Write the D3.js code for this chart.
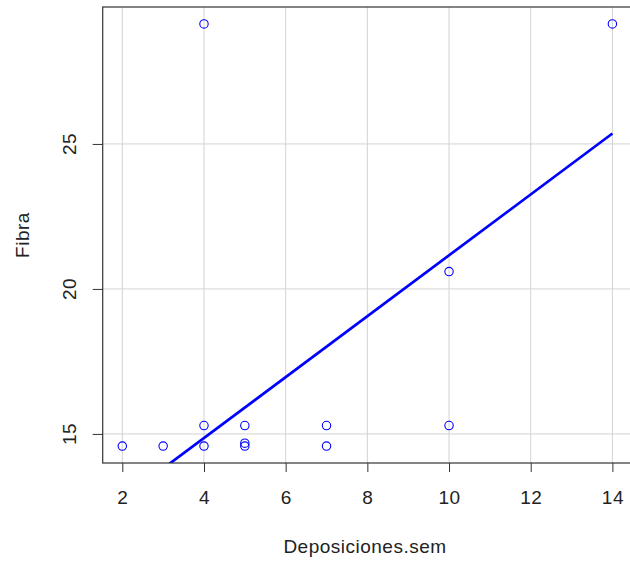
<!DOCTYPE html>
<html><head><meta charset="utf-8">
<script src="https://cdn.jsdelivr.net/npm/d3@7"></script>
<style>body{margin:0;background:#fff}svg{display:block}text{font-family:"Liberation Sans",Arial,sans-serif;fill:#222}</style>
</head><body>
<svg id="c" width="630" height="563"></svg>
<script>
const deposiciones = [2, 3, 4, 4, 4, 5, 5, 5, 7, 7, 10, 10, 14];
const fibra = [14.58, 14.58, 29.14, 15.29, 14.58, 15.29, 14.68, 14.58, 15.29, 14.58, 20.6, 15.29, 29.14];
const xTicks = [2, 4, 6, 8, 10, 12, 14];
const yTicks = [15, 20, 25];
const fitIntercept = 10.66;
const fitSlope = 1.05;

const svg = d3.select("#c");
const L = 102.7, R = 632, T = 7, B = 463;
const FS = 19, LS = "0.5px";
const xr = d3.extent(deposiciones), yr = d3.extent(fibra);
const xpad = (xr[1]-xr[0])*0.04, ypad = (yr[1]-yr[0])*0.04;
const x = d3.scaleLinear().domain([xr[0]-xpad, xr[1]+xpad]).range([L, R]);
const y = d3.scaleLinear().domain([yr[0]-ypad, yr[1]+ypad]).range([B, T]);

svg.append("clipPath").attr("id","clip").append("rect").attr("x",L).attr("y",T).attr("width",R-L).attr("height",B-T);

// grid
const g = svg.append("g").attr("clip-path","url(#clip)");
g.selectAll(".gx").data(xTicks).join("line").attr("x1",d=>x(d)).attr("x2",d=>x(d)).attr("y1",T).attr("y2",B).attr("stroke","#d3d3d3").attr("stroke-width",1);
g.selectAll(".gy").data(yTicks).join("line").attr("y1",d=>y(d)).attr("y2",d=>y(d)).attr("x1",L).attr("x2",R).attr("stroke","#d3d3d3").attr("stroke-width",1);

// regression line
const xs = d3.extent(deposiciones);
g.append("line").attr("x1",x(xs[0])).attr("y1",y(fitIntercept+fitSlope*xs[0])).attr("x2",x(xs[1])).attr("y2",y(fitIntercept+fitSlope*xs[1]))
  .attr("stroke","#0000ff").attr("stroke-width",2.7);

// points
g.selectAll("circle").data(deposiciones.map((d,i)=>[d,fibra[i]])).join("circle")
  .attr("cx",d=>x(d[0])).attr("cy",d=>y(d[1])).attr("r",4.2).attr("fill","none").attr("stroke","#0000ff").attr("stroke-width",1.1);

// box
svg.append("rect").attr("x",L).attr("y",T).attr("width",R-L).attr("height",B-T).attr("fill","none").attr("stroke","#333").attr("stroke-width",1.2);

// axes
const xa = d3.axisBottom(x).tickValues(xTicks).tickSize(9).tickPadding(19).tickFormat(d3.format("d"));
const xg = svg.append("g").attr("transform",`translate(0,${B})`).call(xa);
xg.select(".domain").remove();
xg.selectAll("line").attr("stroke","#333");
xg.selectAll("text").attr("font-size",FS).style("letter-spacing",LS).style("font-family","Liberation Sans, Arial, sans-serif").attr("fill","#222");

const ya = d3.axisLeft(y).tickValues(yTicks).tickSize(10).tickFormat(d3.format("d"));
const yg = svg.append("g").attr("transform",`translate(${L},0)`).call(ya);
yg.select(".domain").remove();
yg.selectAll("line").attr("stroke","#333");
yg.selectAll("text").remove();
svg.selectAll(".ylab").data(yTicks).join("text")
  .attr("transform",d=>`translate(76,${y(d)}) rotate(-90)`).attr("text-anchor","middle")
  .attr("font-size",FS).style("letter-spacing",LS).text(d=>d);

svg.append("text").attr("x",365).attr("y",553).attr("text-anchor","middle").attr("font-size",FS).style("letter-spacing",LS).text("Deposiciones.sem");
svg.append("text").attr("transform",`translate(29,${(T+B)/2}) rotate(-90)`).attr("text-anchor","middle").attr("font-size",FS).style("letter-spacing",LS).text("Fibra");
</script>
</body></html>
